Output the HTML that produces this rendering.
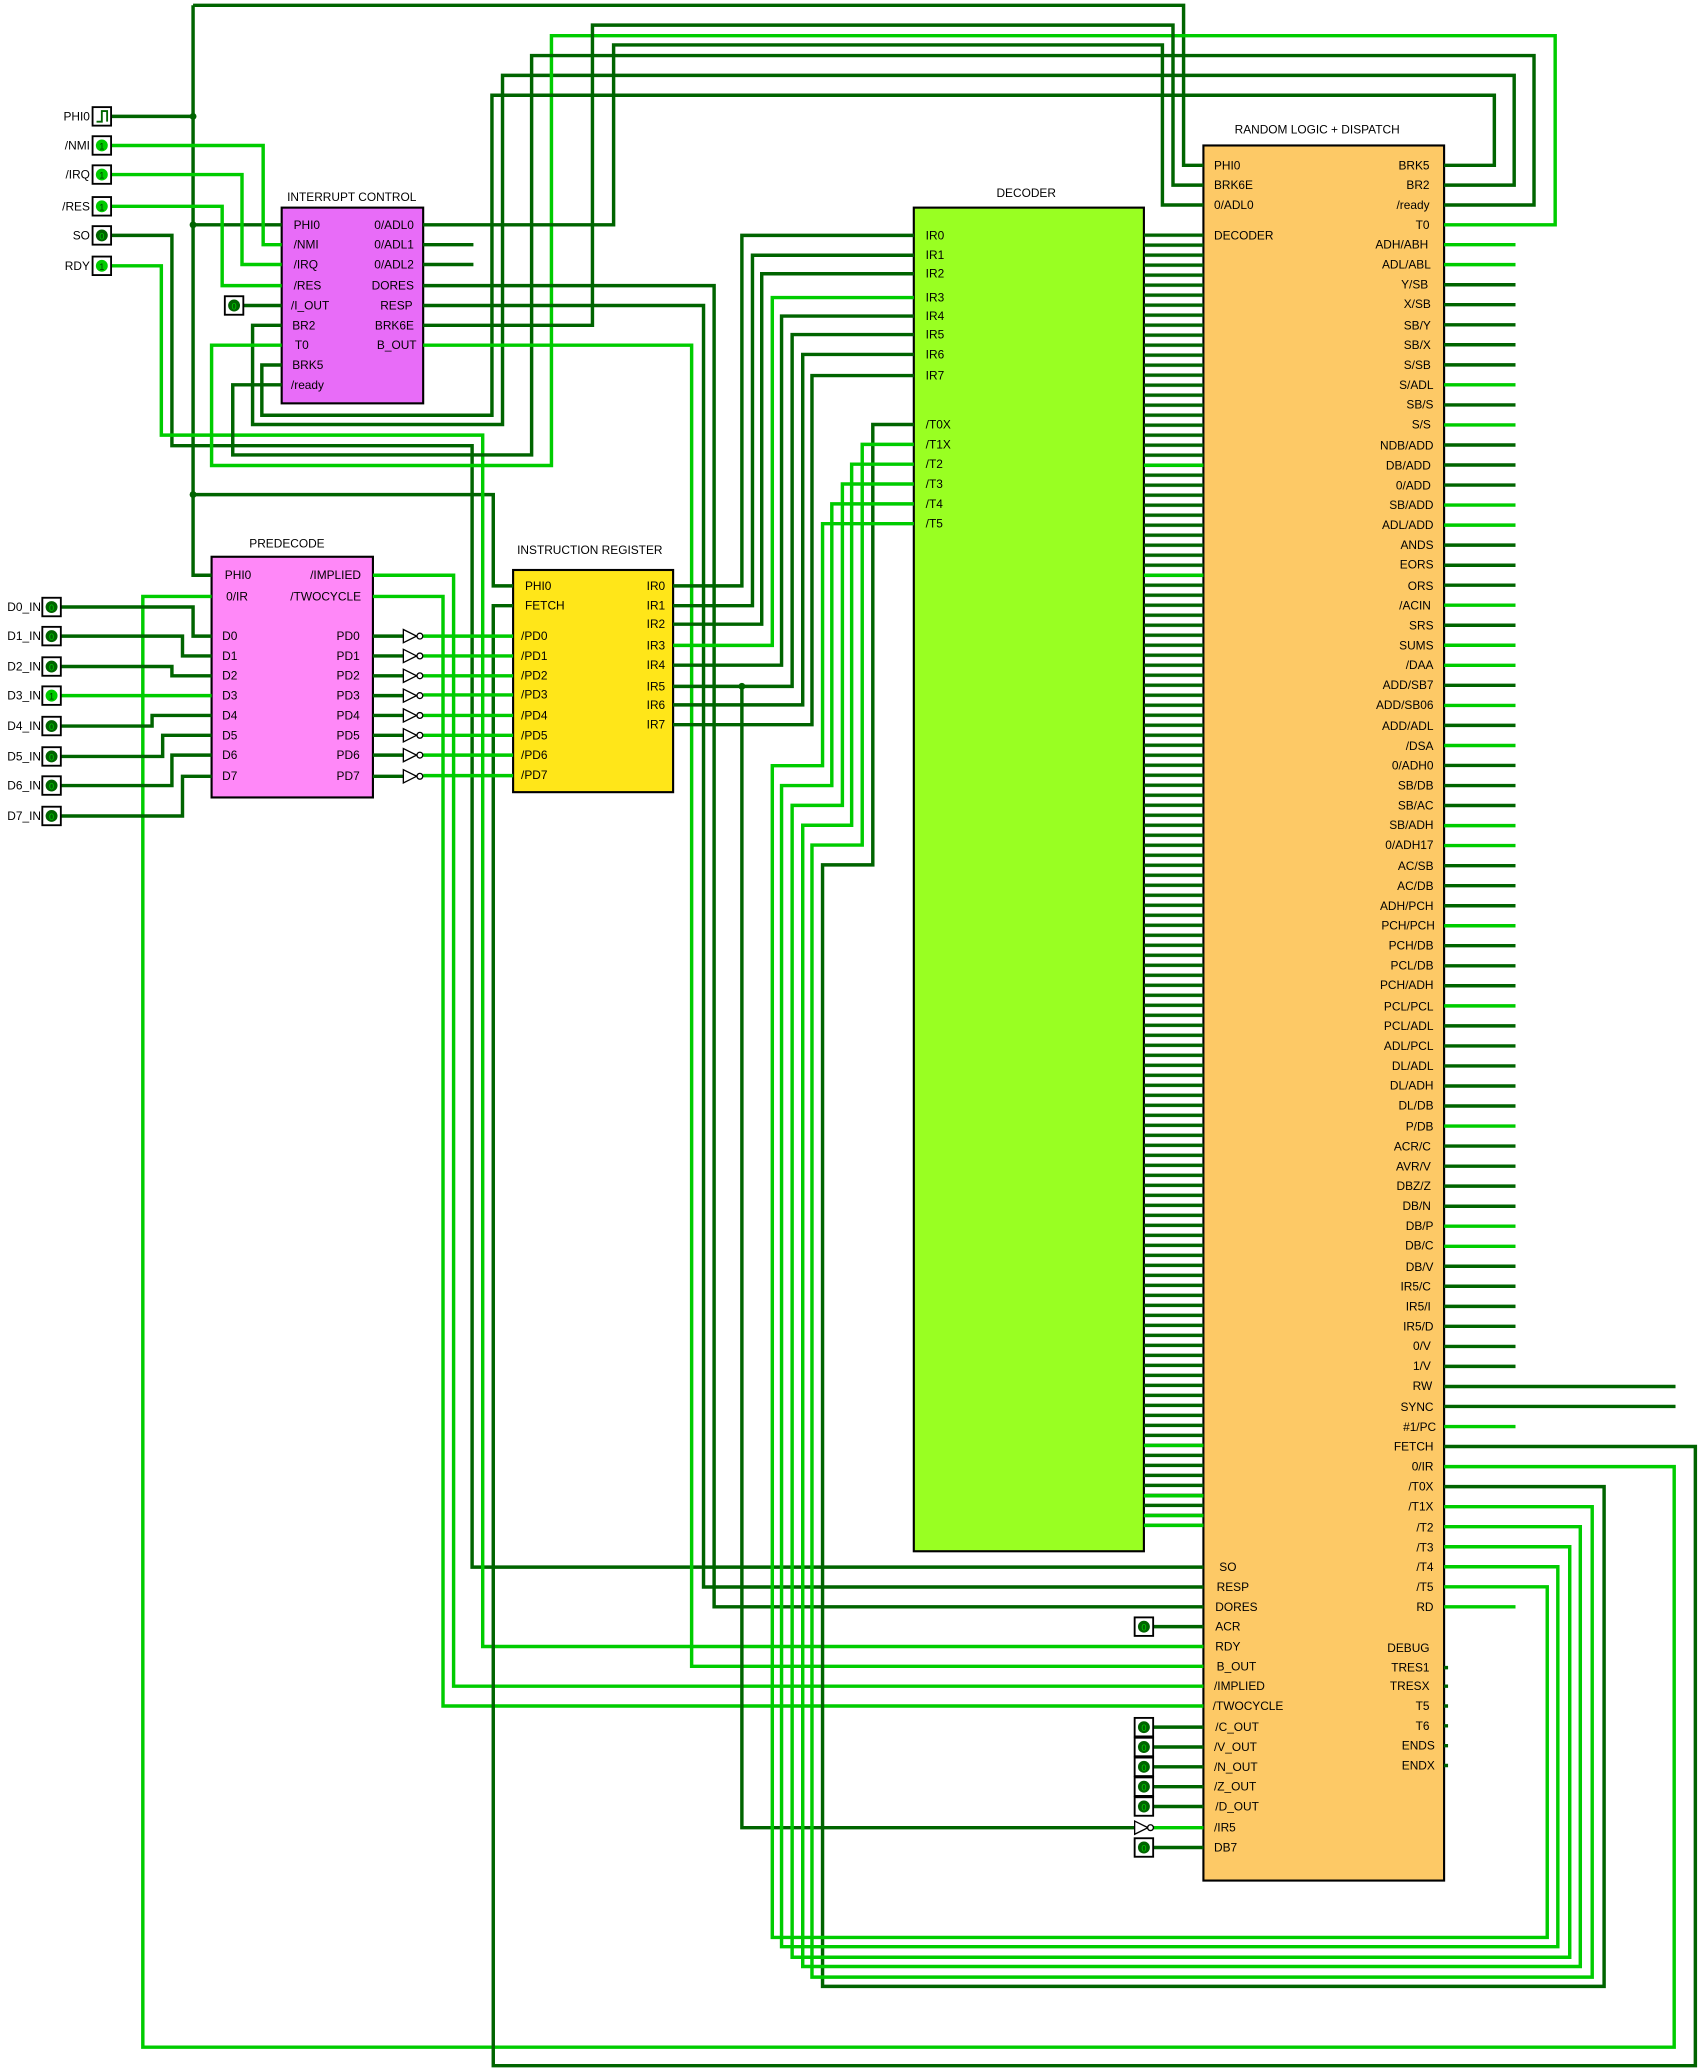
<!DOCTYPE html>
<html><head><meta charset="utf-8"><style>
html,body{margin:0;padding:0;background:#fff}
svg{display:block}
.d{stroke:#006400;fill:none;stroke-width:2.6}
.b{stroke:#00cc00;fill:none;stroke-width:2.6}
text{font-family:"Liberation Sans",Arial,sans-serif;font-size:9px;fill:#000}
.r{text-anchor:end}
.c{text-anchor:middle}
.bx{stroke:#000;stroke-width:1.6}
.k{fill:#fff;stroke:#000;stroke-width:1.4}
</style></head><body>
<svg width="1698" height="2071" viewBox="0 0 1284 1566" preserveAspectRatio="none" xmlns="http://www.w3.org/2000/svg">
<defs>
<pattern id="dl" patternUnits="userSpaceOnUse" x="0" y="176.5" width="50" height="7.563">
<rect x="0" y="0" width="50" height="2.6" fill="#006400"/>
</pattern>
</defs>

<!-- boxes -->
<rect x="213" y="157" width="107" height="148" fill="#e86cf8" class="bx"/>
<rect x="160" y="421" width="122" height="182" fill="#ff88f8" class="bx"/>
<rect x="388" y="431" width="121" height="168" fill="#ffe619" class="bx"/>
<rect x="691" y="157" width="174" height="1016" fill="#99ff22" class="bx"/>
<rect x="910" y="110" width="182" height="1312" fill="#fdc966" class="bx"/>

<!-- decoder to RL lines -->
<rect x="865" y="176.5" width="45" height="978" fill="url(#dl)"/>
<path class="b" d="M865 351.8H910M865 435H910M865 1093H910M865 1131H910M865 1146H910M865 1153.4H910"/>

<!-- wires -->
<path class="d" d="M84 88H146M146 4V435H160M146 4H895V125H910M146 170H213M146 374H373V443H388"/>
<path class="b" d="M84 110H199V185H213"/>
<path class="b" d="M84 132H183V200H213"/>
<path class="b" d="M84 156H168V216H213"/>
<path class="d" d="M84 178H130V337H357V1185H910"/>
<path class="b" d="M84 201H122V329H365V1245H910"/>
<path class="d" d="M184 231H213"/>
<path class="d" d="M213 246H191V321H380V57H1145V140H1092"/>
<path class="b" d="M213 261H160V352H417V27H1176V170H1092"/>
<path class="d" d="M213 276H198V314H372V72H1130V125H1092"/>
<path class="d" d="M213 291H176V344H402V42H1160V155H1092"/>
<path class="d" d="M320 170H464V34H879V155H910"/>
<path class="d" d="M320 185H358M320 200H358"/>
<path class="d" d="M320 216H540V1215H910"/>
<path class="d" d="M320 231H532V1200H910"/>
<path class="d" d="M320 246H448V19H887V140H910"/>
<path class="b" d="M320 261H523V1260H910"/>
<path class="b" d="M1092 1109H1266V1548H108V451H160"/>
<path class="b" d="M282 435H343V1275H910"/>
<path class="b" d="M282 451H335V1290H910"/>
<path class="d" d="M1092 1093.8H1282V1562H373V458H388"/>
<!-- D inputs -->
<path class="d" d="M46 459H146V481H160"/>
<path class="d" d="M46 481H138V496H160"/>
<path class="d" d="M46 504H130V511H160"/>
<path class="b" d="M46 526H160"/>
<path class="d" d="M46 549H115V541H160"/>
<path class="d" d="M46 572H123V556H160"/>
<path class="d" d="M46 594H130V571H160"/>
<path class="d" d="M46 617H138V587H160"/>
<!-- PD inverters -->
<path class="d" d="M282 481H305M282 496H305M282 511H305M282 526H305M282 541H305M282 556H305M282 571H305M282 587H305"/>
<path class="b" d="M320 481H388M320 496H388M320 511H388M320 525.5H388M320 541H388M320 556H388M320 571H388M320 586.5H388"/>
<g fill="#fff" stroke="#000" stroke-width="1">
<path d="M305 476V486L315 481Z"/><circle cx="317.5" cy="481" r="2.2"/>
<path d="M305 491V501L315 496Z"/><circle cx="317.5" cy="496" r="2.2"/>
<path d="M305 506V516L315 511Z"/><circle cx="317.5" cy="511" r="2.2"/>
<path d="M305 521V531L315 526Z"/><circle cx="317.5" cy="526" r="2.2"/>
<path d="M305 536V546L315 541Z"/><circle cx="317.5" cy="541" r="2.2"/>
<path d="M305 551V561L315 556Z"/><circle cx="317.5" cy="556" r="2.2"/>
<path d="M305 566V576L315 571Z"/><circle cx="317.5" cy="571" r="2.2"/>
<path d="M305 582V592L315 587Z"/><circle cx="317.5" cy="587" r="2.2"/>
</g>
<!-- IR to decoder -->
<path class="d" d="M509 443H561V178H691"/>
<path class="d" d="M509 458H569V193H691"/>
<path class="d" d="M509 472H576V207H691"/>
<path class="b" d="M509 488H584V225H691"/>
<path class="d" d="M509 503H591V239H691"/>
<path class="d" d="M509 519H599V253H691"/>
<path class="d" d="M509 533H607V268H691"/>
<path class="d" d="M509 548H614V284H691"/>
<path class="d" d="M561 519V1382H858"/>
<circle cx="561" cy="519" r="2.6" fill="#006400"/>
<path class="b" d="M871 1382H910"/>
<g fill="#fff" stroke="#000" stroke-width="1"><path d="M858 1377V1387L868 1382Z"/><circle cx="870" cy="1382" r="2.2"/></g>
<!-- T lines -->
<path class="d" d="M691 321H660V654H622V1502H1213V1124.1H1092"/>
<path class="b" d="M691 336H652V639H614V1495H1204V1139.3H1092"/>
<path class="b" d="M691 351H644V624H607V1487H1195V1154.4H1092"/>
<path class="b" d="M691 366H637V609H599V1480H1187V1169.6H1092"/>
<path class="b" d="M691 381H629V594H591V1472H1178V1184.7H1092"/>
<path class="b" d="M691 396H622V579H584V1465H1170V1199.9H1092"/>
<!-- RL constant inputs -->
<path class="d" d="M872 1230H910M872 1306H910M872 1321H910M872 1336H910M872 1351H910M872 1366H910M872 1397H910"/>
<!-- RL right outputs -->
<path class="b" d="M1092 185H1146M1092 200.1H1146M1092 291H1146M1092 321.3H1146M1092 381.9H1146M1092 397.1H1146M1092 457.6H1146M1092 487.9H1146M1092 503.1H1146M1092 533.4H1146M1092 563.7H1146M1092 624.3H1146M1092 639.4H1146M1092 700H1146M1092 760.6H1146M1092 851.5H1146M1092 927.2H1146M1092 942.4H1146M1092 1078.7H1146M1092 1215H1146"/>
<path class="d" d="M1092 215.3H1146M1092 230.4H1146M1092 245.6H1146M1092 260.7H1146M1092 275.9H1146M1092 306.2H1146M1092 336.5H1146M1092 351.6H1146M1092 366.8H1146M1092 412.2H1146M1092 427.4H1146M1092 442.5H1146M1092 472.8H1146M1092 518.2H1146M1092 548.5H1146M1092 578.8H1146M1092 594H1146M1092 609.1H1146M1092 654.6H1146M1092 669.7H1146M1092 684.9H1146M1092 715.1H1146M1092 730.3H1146M1092 745.4H1146M1092 775.7H1146M1092 790.9H1146M1092 806H1146M1092 821.2H1146M1092 836.3H1146M1092 866.6H1146M1092 881.8H1146M1092 896.9H1146M1092 912.1H1146M1092 957.5H1146M1092 972.6H1146M1092 987.8H1146M1092 1002.9H1146M1092 1018.1H1146M1092 1033.2H1146M1092 1048.4H1267M1092 1063.5H1267"/>
<path class="d" d="M1092 1261H1095M1092 1275H1095M1092 1290H1095M1092 1305H1095M1092 1320H1095M1092 1335H1095"/>

<!-- nodes -->
<circle cx="146" cy="88" r="2.6" fill="#006400"/>
<circle cx="146" cy="170" r="2.6" fill="#006400"/>
<circle cx="146" cy="374" r="2.6" fill="#006400"/>

<!-- input pins -->
<g>
<rect x="70" y="81" width="14" height="14" class="k"/>
<path d="M73 92H77V84H81V92" fill="none" stroke="#006400" stroke-width="1.4"/>
<rect x="70" y="103" width="14" height="14" class="k"/><circle cx="77" cy="110" r="4.5" fill="#00cc00"/>
<rect x="70" y="125" width="14" height="14" class="k"/><circle cx="77" cy="132" r="4.5" fill="#00cc00"/>
<rect x="70" y="149" width="14" height="14" class="k"/><circle cx="77" cy="156" r="4.5" fill="#00cc00"/>
<rect x="70" y="171" width="14" height="14" class="k"/><circle cx="77" cy="178" r="4.5" fill="#006400"/>
<rect x="70" y="194" width="14" height="14" class="k"/><circle cx="77" cy="201" r="4.5" fill="#00cc00"/>
<rect x="170" y="224" width="14" height="14" class="k"/><circle cx="177" cy="231" r="4.5" fill="#006400"/>
</g>
<g font-size="7" fill="#fff">
<text x="77" y="113" class="c" style="font-size:7px;fill:#004000">1</text>
<text x="77" y="135" class="c" style="font-size:7px;fill:#004000">1</text>
<text x="77" y="159" class="c" style="font-size:7px;fill:#004000">1</text>
<text x="77" y="181" class="c" style="font-size:7px;fill:#00cc00">0</text>
<text x="77" y="204" class="c" style="font-size:7px;fill:#004000">1</text>
<text x="177" y="234" class="c" style="font-size:7px;fill:#00cc00">0</text>
</g>
<g>
<rect x="32" y="452" width="14" height="14" class="k"/><circle cx="39" cy="459" r="4.5" fill="#006400"/>
<rect x="32" y="474" width="14" height="14" class="k"/><circle cx="39" cy="481" r="4.5" fill="#006400"/>
<rect x="32" y="497" width="14" height="14" class="k"/><circle cx="39" cy="504" r="4.5" fill="#006400"/>
<rect x="32" y="519" width="14" height="14" class="k"/><circle cx="39" cy="526" r="4.5" fill="#00cc00"/>
<rect x="32" y="542" width="14" height="14" class="k"/><circle cx="39" cy="549" r="4.5" fill="#006400"/>
<rect x="32" y="565" width="14" height="14" class="k"/><circle cx="39" cy="572" r="4.5" fill="#006400"/>
<rect x="32" y="587" width="14" height="14" class="k"/><circle cx="39" cy="594" r="4.5" fill="#006400"/>
<rect x="32" y="610" width="14" height="14" class="k"/><circle cx="39" cy="617" r="4.5" fill="#006400"/>
<rect x="858" y="1223" width="14" height="14" class="k"/><circle cx="865" cy="1230" r="4.5" fill="#006400"/>
<rect x="858" y="1299" width="14" height="14" class="k"/><circle cx="865" cy="1306" r="4.5" fill="#006400"/>
<rect x="858" y="1314" width="14" height="14" class="k"/><circle cx="865" cy="1321" r="4.5" fill="#006400"/>
<rect x="858" y="1329" width="14" height="14" class="k"/><circle cx="865" cy="1336" r="4.5" fill="#006400"/>
<rect x="858" y="1344" width="14" height="14" class="k"/><circle cx="865" cy="1351" r="4.5" fill="#006400"/>
<rect x="858" y="1359" width="14" height="14" class="k"/><circle cx="865" cy="1366" r="4.5" fill="#006400"/>
<rect x="858" y="1390" width="14" height="14" class="k"/><circle cx="865" cy="1397" r="4.5" fill="#006400"/>
</g>
<g style="font-size:7px">
<text x="39" y="462" class="c" style="font-size:7px;fill:#00cc00">0</text>
<text x="39" y="484" class="c" style="font-size:7px;fill:#00cc00">0</text>
<text x="39" y="507" class="c" style="font-size:7px;fill:#00cc00">0</text>
<text x="39" y="529" class="c" style="font-size:7px;fill:#004000">1</text>
<text x="39" y="552" class="c" style="font-size:7px;fill:#00cc00">0</text>
<text x="39" y="575" class="c" style="font-size:7px;fill:#00cc00">0</text>
<text x="39" y="597" class="c" style="font-size:7px;fill:#00cc00">0</text>
<text x="39" y="620" class="c" style="font-size:7px;fill:#00cc00">0</text>
<text x="865" y="1233" class="c" style="font-size:7px;fill:#00cc00">0</text>
<text x="865" y="1309" class="c" style="font-size:7px;fill:#00cc00">0</text>
<text x="865" y="1324" class="c" style="font-size:7px;fill:#00cc00">0</text>
<text x="865" y="1339" class="c" style="font-size:7px;fill:#00cc00">0</text>
<text x="865" y="1354" class="c" style="font-size:7px;fill:#00cc00">0</text>
<text x="865" y="1369" class="c" style="font-size:7px;fill:#00cc00">0</text>
<text x="865" y="1400" class="c" style="font-size:7px;fill:#00cc00">0</text>
</g>

<!-- left labels -->
<text x="68" y="91" class="r">PHI0</text>
<text x="68" y="113" class="r">/NMI</text>
<text x="68" y="135" class="r">/IRQ</text>
<text x="68" y="159" class="r">/RES</text>
<text x="68" y="181" class="r">SO</text>
<text x="68" y="204" class="r">RDY</text>
<text x="31" y="462" class="r">D0_IN</text>
<text x="31" y="484" class="r">D1_IN</text>
<text x="31" y="507" class="r">D2_IN</text>
<text x="31" y="529" class="r">D3_IN</text>
<text x="31" y="552" class="r">D4_IN</text>
<text x="31" y="575" class="r">D5_IN</text>
<text x="31" y="597" class="r">D6_IN</text>
<text x="31" y="620" class="r">D7_IN</text>

<!-- titles -->
<text x="266" y="152" class="c">INTERRUPT CONTROL</text>
<text x="217" y="414" class="c">PREDECODE</text>
<text x="446" y="419" class="c">INSTRUCTION REGISTER</text>
<text x="776" y="149" class="c">DECODER</text>
<text x="996" y="101" class="c">RANDOM LOGIC + DISPATCH</text>

<!-- interrupt control labels -->
<text x="222" y="173">PHI0</text><text x="222" y="188">/NMI</text><text x="222" y="203">/IRQ</text><text x="222" y="219">/RES</text>
<text x="220" y="234">/I_OUT</text><text x="221" y="249">BR2</text><text x="223" y="264">T0</text><text x="221" y="279">BRK5</text><text x="220" y="294">/ready</text>
<text x="313" y="173" class="r">0/ADL0</text><text x="313" y="188" class="r">0/ADL1</text><text x="313" y="203" class="r">0/ADL2</text>
<text x="313" y="219" class="r">DORES</text><text x="312" y="234" class="r">RESP</text><text x="313" y="249" class="r">BRK6E</text><text x="315" y="264" class="r">B_OUT</text>

<!-- predecode labels -->
<text x="170" y="438">PHI0</text><text x="171" y="454">0/IR</text>
<text x="168" y="484">D0</text><text x="168" y="499">D1</text><text x="168" y="514">D2</text><text x="168" y="529">D3</text>
<text x="168" y="544">D4</text><text x="168" y="559">D5</text><text x="168" y="574">D6</text><text x="168" y="590">D7</text>
<text x="273" y="438" class="r">/IMPLIED</text><text x="273" y="454" class="r">/TWOCYCLE</text>
<text x="272" y="484" class="r">PD0</text><text x="272" y="499" class="r">PD1</text><text x="272" y="514" class="r">PD2</text><text x="272" y="529" class="r">PD3</text>
<text x="272" y="544" class="r">PD4</text><text x="272" y="559" class="r">PD5</text><text x="272" y="574" class="r">PD6</text><text x="272" y="590" class="r">PD7</text>

<!-- IR labels -->
<text x="397" y="446">PHI0</text><text x="397" y="461">FETCH</text>
<text x="394" y="484">/PD0</text><text x="394" y="499">/PD1</text><text x="394" y="514">/PD2</text><text x="394" y="528">/PD3</text>
<text x="394" y="544">/PD4</text><text x="394" y="559">/PD5</text><text x="394" y="574">/PD6</text><text x="394" y="589">/PD7</text>
<text x="503" y="446" class="r">IR0</text><text x="503" y="461" class="r">IR1</text><text x="503" y="475" class="r">IR2</text><text x="503" y="491" class="r">IR3</text>
<text x="503" y="506" class="r">IR4</text><text x="503" y="522" class="r">IR5</text><text x="503" y="536" class="r">IR6</text><text x="503" y="551" class="r">IR7</text>

<!-- decoder labels -->
<text x="700" y="181">IR0</text><text x="700" y="196">IR1</text><text x="700" y="210">IR2</text><text x="700" y="228">IR3</text>
<text x="700" y="242">IR4</text><text x="700" y="256">IR5</text><text x="700" y="271">IR6</text><text x="700" y="287">IR7</text>
<text x="700" y="324">/T0X</text><text x="700" y="339">/T1X</text><text x="700" y="354">/T2</text><text x="700" y="369">/T3</text><text x="700" y="384">/T4</text><text x="700" y="399">/T5</text>

<!-- RL left labels -->
<text x="918" y="128">PHI0</text><text x="918" y="143">BRK6E</text><text x="918" y="158">0/ADL0</text><text x="918" y="181">DECODER</text>
<text x="922" y="1188">SO</text><text x="920" y="1203">RESP</text><text x="919" y="1218">DORES</text><text x="919" y="1233">ACR</text>
<text x="919" y="1248">RDY</text><text x="920" y="1263">B_OUT</text><text x="918" y="1278">/IMPLIED</text><text x="917" y="1293">/TWOCYCLE</text>
<text x="919" y="1309">/C_OUT</text><text x="918" y="1324">/V_OUT</text><text x="918" y="1339">/N_OUT</text><text x="918" y="1354">/Z_OUT</text>
<text x="919" y="1369">/D_OUT</text><text x="918" y="1385">/IR5</text><text x="918" y="1400">DB7</text>
<text x="1081" y="1249" class="r">DEBUG</text><text x="1081" y="1264" class="r">TRES1</text><text x="1081" y="1278" class="r">TRESX</text>
<text x="1081" y="1293" class="r">T5</text><text x="1081" y="1308" class="r">T6</text><text x="1085" y="1323" class="r">ENDS</text><text x="1085" y="1338" class="r">ENDX</text>

<!-- RL right labels -->
<g class="r">
<text x="1081" y="128" class="r">BRK5</text><text x="1081" y="143" class="r">BR2</text><text x="1081" y="158" class="r">/ready</text><text x="1081" y="173" class="r">T0</text>
<text x="1080" y="188" class="r">ADH/ABH</text><text x="1082" y="203" class="r">ADL/ABL</text><text x="1080" y="218" class="r">Y/SB</text><text x="1082" y="233" class="r">X/SB</text>
<text x="1082" y="249" class="r">SB/Y</text><text x="1082" y="264" class="r">SB/X</text><text x="1082" y="279" class="r">S/SB</text><text x="1084" y="294" class="r">S/ADL</text>
<text x="1084" y="309" class="r">SB/S</text><text x="1082" y="324" class="r">S/S</text><text x="1084" y="340" class="r">NDB/ADD</text><text x="1082" y="355" class="r">DB/ADD</text>
<text x="1082" y="370" class="r">0/ADD</text><text x="1084" y="385" class="r">SB/ADD</text><text x="1084" y="400" class="r">ADL/ADD</text><text x="1084" y="415" class="r">ANDS</text>
<text x="1084" y="430" class="r">EORS</text><text x="1084" y="446" class="r">ORS</text><text x="1082" y="461" class="r">/ACIN</text><text x="1084" y="476" class="r">SRS</text>
<text x="1084" y="491" class="r">SUMS</text><text x="1084" y="506" class="r">/DAA</text><text x="1084" y="521" class="r">ADD/SB7</text><text x="1084" y="536" class="r">ADD/SB06</text>
<text x="1084" y="552" class="r">ADD/ADL</text><text x="1084" y="567" class="r">/DSA</text><text x="1084" y="582" class="r">0/ADH0</text><text x="1084" y="597" class="r">SB/DB</text>
<text x="1084" y="612" class="r">SB/AC</text><text x="1084" y="627" class="r">SB/ADH</text><text x="1084" y="642" class="r">0/ADH17</text><text x="1084" y="658" class="r">AC/SB</text>
<text x="1084" y="673" class="r">AC/DB</text><text x="1084" y="688" class="r">ADH/PCH</text><text x="1085" y="703" class="r">PCH/PCH</text><text x="1084" y="718" class="r">PCH/DB</text>
<text x="1084" y="733" class="r">PCL/DB</text><text x="1084" y="748" class="r">PCH/ADH</text><text x="1084" y="764" class="r">PCL/PCL</text><text x="1084" y="779" class="r">PCL/ADL</text>
<text x="1084" y="794" class="r">ADL/PCL</text><text x="1084" y="809" class="r">DL/ADL</text><text x="1084" y="824" class="r">DL/ADH</text><text x="1084" y="839" class="r">DL/DB</text>
<text x="1084" y="855" class="r">P/DB</text><text x="1082" y="870" class="r">ACR/C</text><text x="1082" y="885" class="r">AVR/V</text><text x="1082" y="900" class="r">DBZ/Z</text>
<text x="1082" y="915" class="r">DB/N</text><text x="1084" y="930" class="r">DB/P</text><text x="1084" y="945" class="r">DB/C</text><text x="1084" y="961" class="r">DB/V</text>
<text x="1082" y="976" class="r">IR5/C</text><text x="1082" y="991" class="r">IR5/I</text><text x="1084" y="1006" class="r">IR5/D</text><text x="1082" y="1021" class="r">0/V</text>
<text x="1082" y="1036" class="r">1/V</text><text x="1083" y="1051" class="r">RW</text><text x="1084" y="1067" class="r">SYNC</text><text x="1086" y="1082" class="r">#1/PC</text>
<text x="1084" y="1097" class="r">FETCH</text><text x="1084" y="1112" class="r">0/IR</text><text x="1084" y="1127" class="r">/T0X</text><text x="1084" y="1142" class="r">/T1X</text>
<text x="1084" y="1158" class="r">/T2</text><text x="1084" y="1173" class="r">/T3</text><text x="1084" y="1188" class="r">/T4</text><text x="1084" y="1203" class="r">/T5</text>
<text x="1084" y="1218" class="r">RD</text>
</g>
</svg>
</body></html>
